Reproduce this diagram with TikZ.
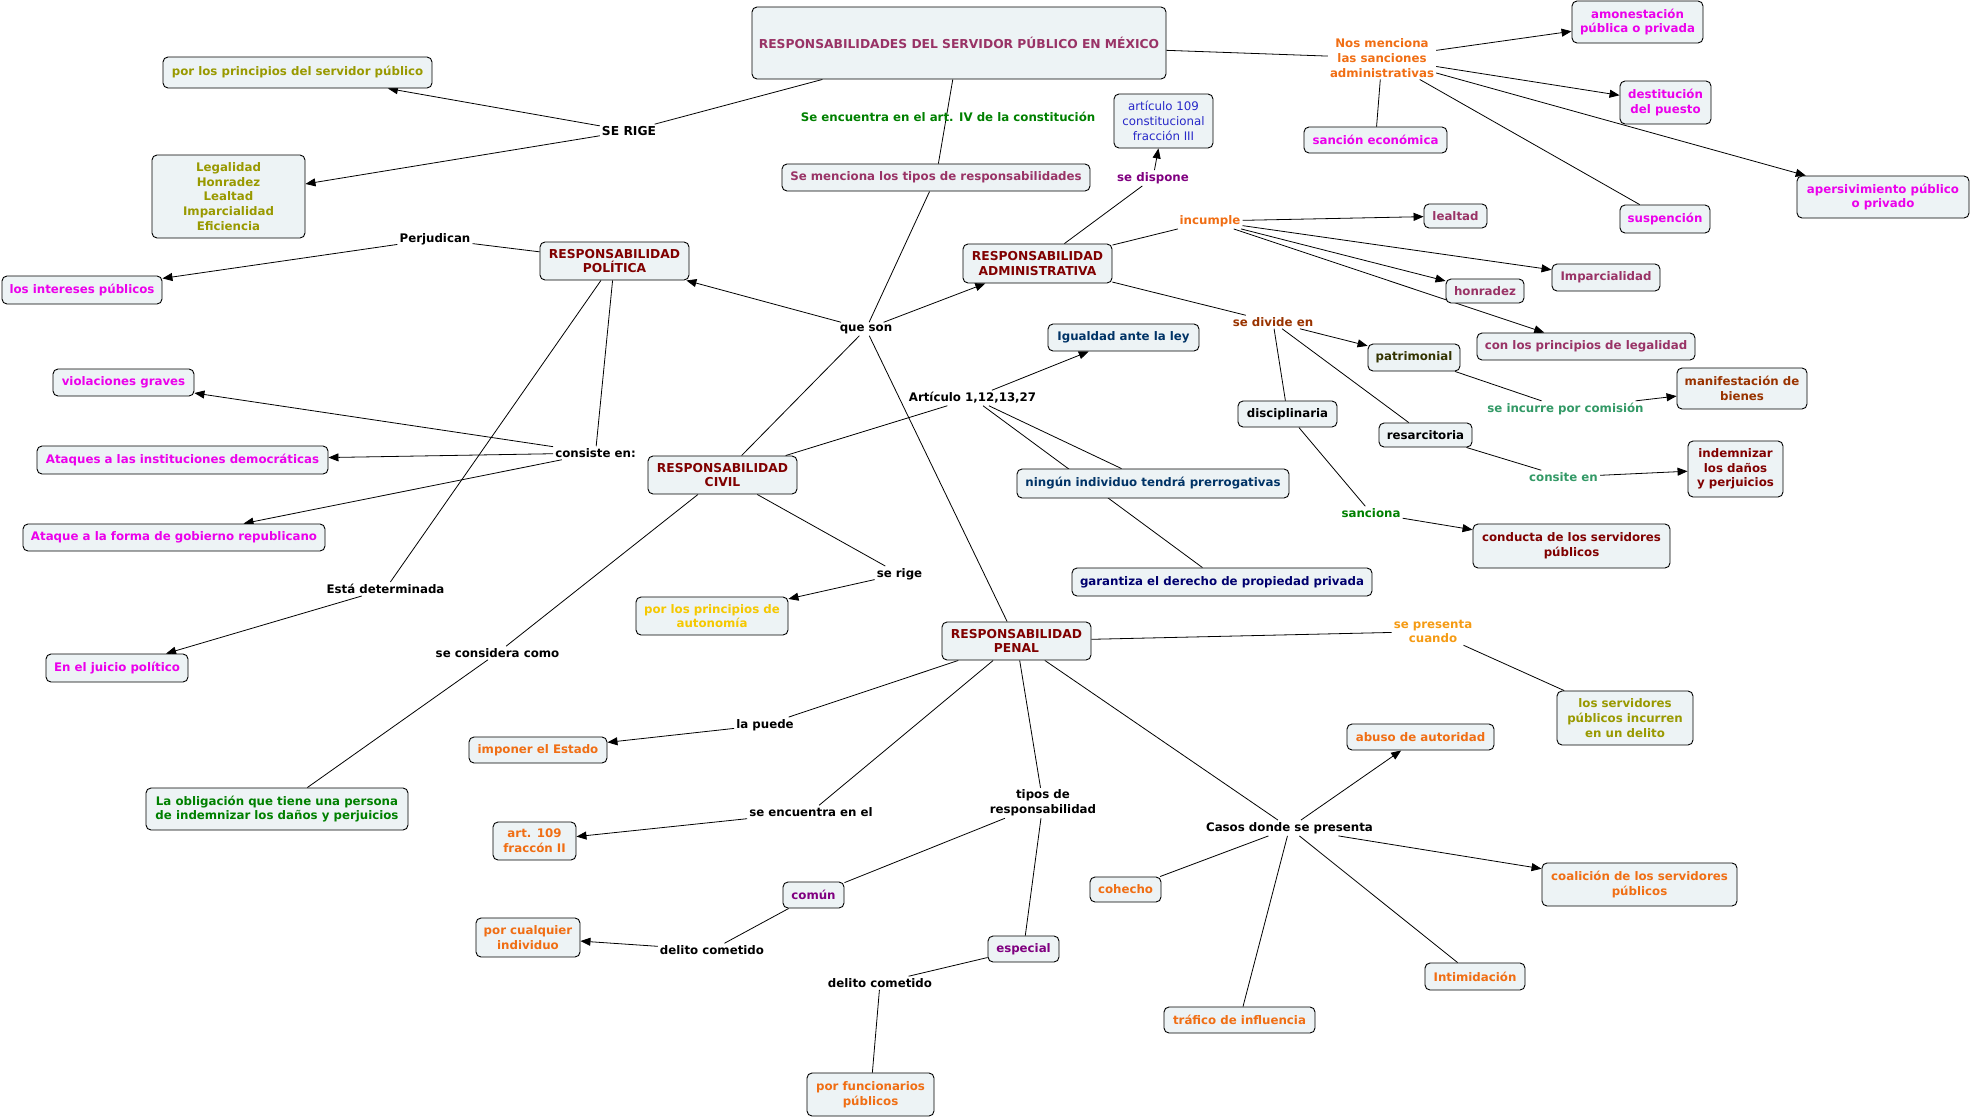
\documentclass[tikz,border=0pt]{standalone}
\usepackage{fontspec}
\setmainfont{DejaVu Sans}
\usetikzlibrary{arrows.meta,backgrounds}
\definecolor{boxfill}{RGB}{237,243,245}
\definecolor{titlecol}{RGB}{153,51,102}
\definecolor{dred}{RGB}{128,0,0}
\definecolor{olivec}{RGB}{153,153,0}
\definecolor{magc}{RGB}{235,0,235}
\definecolor{greenc}{RGB}{0,128,0}
\definecolor{purplec}{RGB}{128,0,128}
\definecolor{orangec}{RGB}{240,110,20}
\definecolor{orange2}{RGB}{245,155,20}
\definecolor{goldc}{RGB}{245,200,0}
\definecolor{brownc}{RGB}{153,51,0}
\definecolor{tealc}{RGB}{51,153,102}
\definecolor{navyc}{RGB}{0,51,102}
\definecolor{navy2}{RGB}{0,0,110}
\definecolor{bluec}{RGB}{40,40,200}
\definecolor{dolive}{RGB}{51,51,0}
\newcommand{\capsz}{\fontsize{12.3}{14.7}\selectfont}
\tikzset{
  box/.style={draw=black, line width=0.9pt, rounded corners=5pt, fill=boxfill, inner sep=0pt,
    align=center, font=\fontsize{11.8}{14.7}\selectfont\bfseries},
  lab/.style={inner sep=2pt, align=center, font=\fontsize{11.8}{14.7}\selectfont\bfseries, text=black},
  ln/.style={draw=black, line width=0.8pt},
  arr/.style={ln, -{Triangle[length=10pt,width=8pt]}}
}
\newcommand{\bx}[7]{\node[box, minimum width=#4pt, minimum height=#5pt, text=#6] (#1) at (#2,#3) {#7};}
\begin{document}
\begin{tikzpicture}[x=1pt,y=-1pt]
\useasboundingbox (0,0) rectangle (1972,1119);
% boxes
\bx{title}{959}{43}{414}{72}{titlecol}{\capsz RESPONSABILIDADES DEL SERVIDOR PÚBLICO EN MÉXICO}
\bx{ppsp}{297.5}{72.5}{269}{31}{olivec}{por los principios del servidor público}
\bx{legal}{228.5}{196.5}{153}{83}{olivec}{Legalidad\\Honradez\\Lealtad\\Imparcialidad\\Eficiencia}
\bx{intereses}{82}{290}{160}{28}{magc}{los intereses públicos}
\bx{semenc}{936}{177.5}{308}{27}{titlecol}{Se menciona los tipos de responsabilidades}
\bx{pol}{614.5}{261}{149}{38}{dred}{\capsz RESPONSABILIDAD\\\capsz POLÍTICA}
\bx{admin}{1037.5}{263.5}{149}{39}{dred}{\capsz RESPONSABILIDAD\\\capsz ADMINISTRATIVA}
\bx{art109c}{1163.5}{121}{99}{54}{bluec}{\mdseries artículo 109\\\mdseries constitucional\\\mdseries fracción III}
\bx{sancion}{1375.5}{140}{143}{26}{magc}{sanción económica}
\bx{amon}{1637.5}{22}{131}{42}{magc}{amonestación\\pública o privada}
\bx{destit}{1665.5}{102.5}{91}{43}{magc}{destitución\\del puesto}
\bx{apers}{1883}{197}{172}{42}{magc}{apersivimiento público\\o privado}
\bx{susp}{1665}{219}{90}{28}{magc}{suspención}
\bx{lealtad}{1455.5}{216}{63}{24}{titlecol}{lealtad}
\bx{honradez}{1485}{291}{78}{24}{titlecol}{honradez}
\bx{impar}{1606}{277.5}{108}{27}{titlecol}{Imparcialidad}
\bx{conlos}{1586}{346.5}{218}{27}{titlecol}{con los principios de legalidad}
\bx{patrim}{1414}{357.5}{92}{27}{dolive}{patrimonial}
\bx{manif}{1742}{388.5}{130}{41}{brownc}{manifestación de\\bienes}
\bx{igualdad}{1123.5}{337.5}{151}{27}{navyc}{Igualdad ante la ley}
\bx{discip}{1287.5}{414}{99}{26}{black}{disciplinaria}
\bx{resarc}{1425.5}{435}{93}{24}{black}{resarcitoria}
\bx{indemn}{1735.5}{469}{95}{56}{dred}{indemnizar\\los daños\\y perjuicios}
\bx{conducta}{1571.5}{546}{197}{44}{dred}{conducta de los servidores\\públicos}
\bx{ningun}{1153}{483.5}{272}{29}{navyc}{ningún individuo tendrá prerrogativas}
\bx{garant}{1222}{582}{300}{28}{navy2}{garantiza el derecho de propiedad privada}
\bx{violac}{123.5}{382.5}{141}{27}{magc}{violaciones graves}
\bx{ataqinst}{182.5}{460}{291}{28}{magc}{Ataques a las instituciones democráticas}
\bx{ataqform}{174}{537.5}{302}{27}{magc}{Ataque a la forma de gobierno republicano}
\bx{juicio}{117}{668}{142}{28}{magc}{En el juicio político}
\bx{civil}{722.5}{475}{149}{38}{dred}{\capsz RESPONSABILIDAD\\\capsz CIVIL}
\bx{autonom}{712}{616}{152}{38}{goldc}{por los principios de\\autonomía}
\bx{penal}{1016.5}{641}{149}{38}{dred}{\capsz RESPONSABILIDAD\\\capsz PENAL}
\bx{imponer}{538}{750}{138}{26}{orangec}{imponer el Estado}
\bx{obligac}{277}{809}{262}{42}{greenc}{La obligación que tiene una persona\\de indemnizar los daños y perjuicios}
\bx{art109}{534.5}{841}{83}{38}{orangec}{art. 109\\fraccón II}
\bx{comun}{813.5}{895}{61}{26}{purplec}{común}
\bx{cualq}{528}{937.5}{104}{39}{orangec}{por cualquier\\individuo}
\bx{funcion}{870.5}{1094.5}{127}{43}{orangec}{por funcionarios\\públicos}
\bx{especial}{1023.5}{949}{71}{26}{purplec}{especial}
\bx{abuso}{1420.5}{737}{147}{26}{orangec}{abuso de autoridad}
\bx{cohecho}{1125.5}{889.5}{71}{25}{orangec}{cohecho}
\bx{trafico}{1239.5}{1020}{151}{26}{orangec}{tráfico de influencia}
\bx{intim}{1475}{976.5}{100}{27}{orangec}{Intimidación}
\bx{coalic}{1639.5}{884.5}{195}{43}{orangec}{coalición de los servidores\\públicos}
\bx{losserv}{1625}{718}{136}{54}{olivec}{los servidores\\públicos incurren\\en un delito}
% linking phrases
\node[lab] (serige) at (629,131) {\capsz SE RIGE};
\node[lab] (perjud) at (435,239) {Perjudican};
\node[lab, text=greenc] (seencart) at (948,117) {Se encuentra en el art. IV de la constitución};
\node[lab] (queson) at (866,329) {que son};
\node[lab, text=orangec] (nosmenc) at (1382,58) {Nos menciona\\las sanciones\\administrativas};
\node[lab, text=purplec] (sedisp) at (1153,178) {se dispone};
\node[lab, text=orangec] (incumple) at (1210,221) {incumple};
\node[lab, text=brownc] (sedivide) at (1273,322) {se divide en};
\node[lab] (articulo) at (972.5,398) {Artículo 1,12,13,27};
\node[lab] (consiste) at (595.5,453) {consiste en:};
\node[lab] (estadet) at (385.5,589) {Está determinada};
\node[lab] (seconsid) at (497.5,653) {se considera como};
\node[lab] (serige2) at (899.5,574) {se rige};
\node[lab] (lapuede) at (765,725) {la puede};
\node[lab, text=tealc] (seincurre) at (1565.5,409) {se incurre por comisión};
\node[lab, text=tealc] (consite) at (1563.5,477) {consite en};
\node[lab, text=greenc] (sanciona) at (1371,513) {sanciona};
\node[lab, text=orange2] (sepresenta) at (1433,631.5) {se presenta\\cuando};
\node[lab] (seencel) at (811,812) {se encuentra en el};
\node[lab] (tipos) at (1043,803) {tipos de\\responsabilidad};
\node[lab] (delito1) at (712,950) {delito cometido};
\node[lab] (delito2) at (880,983) {delito cometido};
\node[lab] (casos) at (1289.5,828) {Casos donde se presenta};
% connectors
\begin{pgfonlayer}{background}
\draw[ln] (title) -- (serige);
\draw[arr] (serige) -- (ppsp);
\draw[arr] (serige) -- (legal);
\draw[ln] (title) -- (semenc);
\draw[ln] (semenc) -- (queson);
\draw[arr] (queson) -- (pol);
\draw[arr] (queson) -- (admin);
\draw[ln] (queson) -- (civil);
\draw[ln] (queson) -- (penal);
\draw[ln] (pol) -- (perjud);
\draw[arr] (perjud) -- (intereses);
\draw[ln] (pol) -- (consiste);
\draw[arr] (consiste) -- (violac);
\draw[arr] (consiste) -- (ataqinst);
\draw[arr] (consiste) -- (ataqform);
\draw[ln] (pol) -- (estadet);
\draw[arr] (estadet) -- (juicio);
\draw[ln] (title) -- (nosmenc);
\draw[arr] (nosmenc) -- (amon);
\draw[arr] (nosmenc) -- (destit);
\draw[arr] (nosmenc) -- (apers);
\draw[ln] (nosmenc) -- (susp);
\draw[ln] (nosmenc) -- (sancion);
\draw[ln] (admin) -- (sedisp);
\draw[arr] (sedisp) -- (art109c);
\draw[ln] (admin) -- (incumple);
\draw[arr] (incumple) -- (lealtad);
\draw[arr] (incumple) -- (impar);
\draw[arr] (incumple) -- (honradez);
\draw[arr] (incumple) -- (conlos);
\draw[ln] (admin) -- (sedivide);
\draw[arr] (sedivide) -- (patrim);
\draw[ln] (sedivide) -- (discip);
\draw[ln] (sedivide) -- (resarc);
\draw[ln] (patrim) -- (seincurre);
\draw[arr] (seincurre) -- (manif);
\draw[ln] (resarc) -- (consite);
\draw[arr] (consite) -- (indemn);
\draw[ln] (discip) -- (sanciona);
\draw[arr] (sanciona) -- (conducta);
\draw[ln] (civil) -- (articulo);
\draw[arr] (articulo) -- (igualdad);
\draw[ln] (articulo) -- (ningun);
\draw[ln] (articulo) -- (garant);
\draw[ln] (civil) -- (seconsid);
\draw[ln] (seconsid) -- (obligac);
\draw[ln] (civil) -- (serige2);
\draw[arr] (serige2) -- (autonom);
\draw[ln] (penal) -- (lapuede);
\draw[arr] (lapuede) -- (imponer);
\draw[ln] (penal) -- (seencel);
\draw[arr] (seencel) -- (art109);
\draw[ln] (penal) -- (tipos);
\draw[ln] (tipos) -- (comun);
\draw[ln] (tipos) -- (especial);
\draw[ln] (comun) -- (delito1);
\draw[arr] (delito1) -- (cualq);
\draw[ln] (especial) -- (delito2);
\draw[ln] (delito2) -- (funcion);
\draw[ln] (penal) -- (casos);
\draw[arr] (casos) -- (abuso);
\draw[arr] (casos) -- (coalic);
\draw[ln] (casos) -- (cohecho);
\draw[ln] (casos) -- (trafico);
\draw[ln] (casos) -- (intim);
\draw[ln] (penal) -- (sepresenta);
\draw[ln] (sepresenta) -- (losserv);
\end{pgfonlayer}
\end{tikzpicture}
\end{document}
